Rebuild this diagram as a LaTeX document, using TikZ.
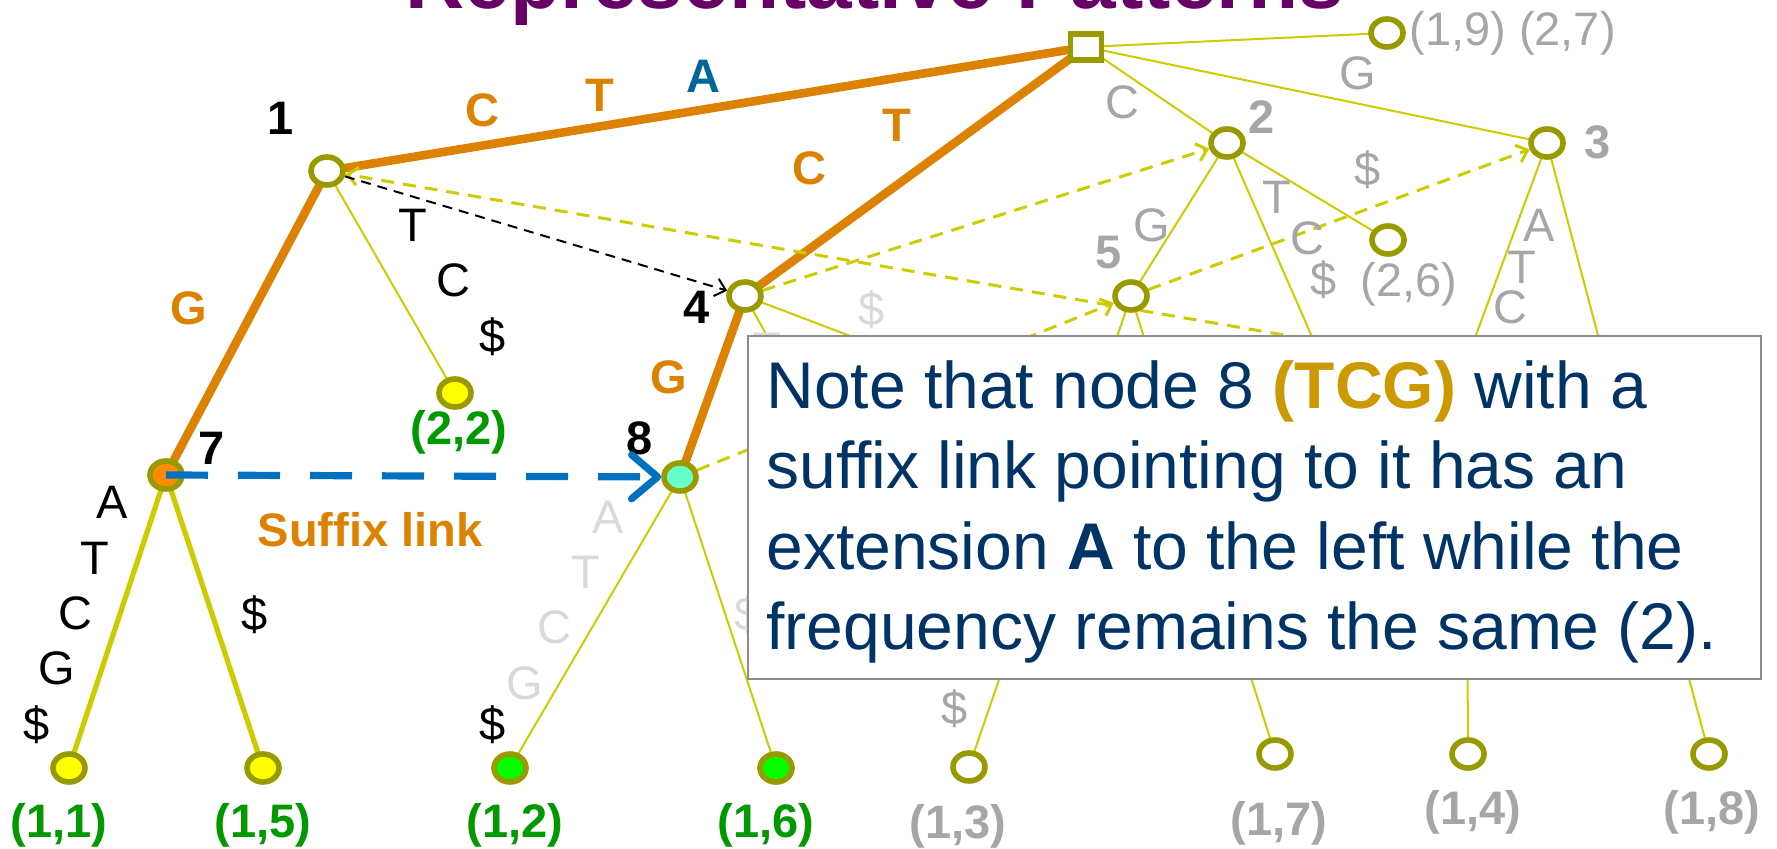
\documentclass[tikz,border=0pt]{standalone}
\usepackage{fontspec}
\setmainfont{Liberation Sans}
\usetikzlibrary{arrows.meta,shapes.geometric}
\pgfdeclarelayer{bg}
\pgfsetlayers{bg,main}
\definecolor{orng}{RGB}{220,130,0}
\definecolor{ylw}{RGB}{204,204,0}
\definecolor{olv}{RGB}{153,153,0}
\definecolor{gry}{RGB}{166,166,166}
\definecolor{lgry}{RGB}{217,217,217}
\definecolor{grn}{RGB}{0,153,0}
\definecolor{navy}{RGB}{0,51,102}
\definecolor{gold}{RGB}{204,153,0}
\definecolor{ttl}{RGB}{102,0,102}
\definecolor{blu}{RGB}{0,112,192}
\definecolor{ablue}{RGB}{0,102,153}
\definecolor{fillor}{RGB}{255,140,0}
\definecolor{aqua}{RGB}{102,255,204}
\definecolor{lfy}{RGB}{255,255,0}
\definecolor{lfg}{RGB}{0,255,0}
\definecolor{boxgray}{RGB}{140,140,140}
\begin{document}
\begin{tikzpicture}[x=0.5pt,y=-0.5pt,
  every node/.style={inner sep=0pt},
  tn/.style={ellipse, draw=olv, line width=2.8pt, fill=white, minimum width=16pt, minimum height=14pt},
  rootsq/.style={rectangle, draw=olv, line width=2.8pt, fill=white, minimum width=15.5pt, minimum height=13pt},
  lab/.style={font=\fontsize{23.5}{28}\selectfont},
  blab/.style={font=\bfseries\fontsize{23.5}{28}\selectfont},
  oe/.style={draw=orng, line width=4.3pt},
  te/.style={draw=ylw, line width=1pt},
  ye/.style={draw=ylw, line width=2.6pt},
  sl/.style={draw=ylw, line width=1.5pt, dash pattern=on 6.5pt off 4.5pt, -{Straight Barb[length=5pt,width=9pt]}},
  bl/.style={draw=black, line width=1pt, dash pattern=on 5pt off 3.5pt, -{Straight Barb[length=5pt,width=9pt]}},
  bluelink/.style={draw=blu, line width=3.6pt, dash pattern=on 21pt off 15pt, -{Straight Barb[round,length=13pt,width=22pt]}},
  boxtxt/.style={anchor=base west, text=navy, font=\fontsize{33}{40}\selectfont}
]
\useasboundingbox (0,0) rectangle (1777,849);

% title
\node[anchor=base, text=ttl, font=\bfseries\fontsize{41}{45}\selectfont] (title) at (875,9) {Representative Patterns};

% tree nodes
\node[rootsq] (root) at (1086,47) {};
\node[tn] (n19) at (1387,33) {};
\node[tn] (n1) at (327,171) {};
\node[tn] (n2) at (1227,143) {};
\node[tn] (n3) at (1547,143) {};
\node[tn] (n4) at (745,296) {};
\node[tn] (n5) at (1131,296) {};
\node[tn] (n26) at (1388,240) {};
\node[tn, fill=fillor] (n7) at (166,475) {};
\node[tn, fill=aqua] (n8) at (680,477) {};
\node[tn, fill=lfy] (n22) at (455,393) {};
\node[tn, fill=lfy] (l11) at (69,768) {};
\node[tn, fill=lfy] (l15) at (263,768) {};
\node[tn, fill=lfg] (l12) at (510,768) {};
\node[tn, fill=lfg] (l16) at (776,768) {};
\node[tn] (l13) at (969,767) {};
\node[tn] (l17) at (1275,754) {};
\node[tn] (l14) at (1468,754) {};
\node[tn] (l18) at (1709,754) {};

% hidden end points behind the note box
\coordinate (h4a) at (800,396);
\coordinate (h4b) at (1000,393);
\coordinate (h2) at (1331,380);
\coordinate (h3) at (1466,362);
\coordinate (hsrc) at (1500,372);

\begin{pgfonlayer}{bg}
  \draw[te] (root.center) -- (n19.center);
  \draw[te] (root.center) -- (n2.center);
  \draw[te] (root.center) -- (n3.center);
  \draw[te] (n1.center) -- (n22.center);
  \draw[te] (n2.center) -- (n5.center);
  \draw[te] (n2.center) -- (h2);
  \draw[te] (n2.center) -- (n26.center);
  \draw[te] (n3.center) -- (h3) -- (l14.center);
  \draw[te] (n3.center) -- (l18.center);
  \draw[te] (n4.center) -- (h4a);
  \draw[te] (n4.center) -- (h4b);
  \draw[te] (n5.center) -- (l13.center);
  \draw[te] (n5.center) -- (l17.center);
  \draw[te] (n8.center) -- (l12.center);
  \draw[te] (n8.center) -- (l16.center);
  \draw[ye] (n7.center) -- (l11.center);
  \draw[ye] (n7.center) -- (l15.center);
  \draw[oe] (root.center) -- (n1.center);
  \draw[oe] (root.center) -- (n4.center);
  \draw[oe] (n1.center) -- (n7.center);
  \draw[oe] (n4.center) -- (n8.center);
  \draw[sl] (n4) -- (n2);
  \draw[sl] (n8) -- (n5);
  \draw[sl] (n5) -- (n3);
  \draw[sl] (hsrc) -- (n1);
  \draw[bl] (n1) -- (n4);
\end{pgfonlayer}

% node numbers
\node[blab] (t1) at (281,118) {1};
\node[blab] (t4) at (697,307) {4};
\node[blab] (t7) at (212,448) {7};
\node[blab] (t8) at (640,438) {8};
\node[blab, text=gry] (t2) at (1262,117) {2};
\node[blab, text=gry] (t3) at (1598,142) {3};
\node[blab, text=gry] (t5) at (1109,253) {5};

% edge labels
\node[blab, text=orng] (e1) at (482,110) {C};
\node[blab, text=orng] (e2) at (600,95) {T};
\node[blab, text=ablue] (e3) at (703,76) {A};
\node[blab, text=orng] (e4) at (809,168) {C};
\node[blab, text=orng] (e5) at (897,125) {T};
\node[blab, text=orng] (e6) at (189,308) {G};
\node[blab, text=orng] (e7) at (669,377) {G};
\node[lab] (e8) at (413,225) {T};
\node[lab] (e9) at (453,280) {C};
\node[lab] (e10) at (493,337) {\$};
\node[lab] (e11) at (112,502) {A};
\node[lab] (e12) at (95,558) {T};
\node[lab] (e13) at (75,613) {C};
\node[lab] (e14) at (57,668) {G};
\node[lab] (e15) at (37,725) {\$};
\node[lab] (e16) at (255,615) {\$};
\node[lab] (e17) at (493,725) {\$};
\node[lab, text=lgry] (e18) at (608,517) {A};
\node[lab, text=lgry] (e19) at (586,572) {T};
\node[lab, text=lgry] (e20) at (554,627) {C};
\node[lab, text=lgry] (e21) at (525,683) {G};
\node[lab, text=lgry] (e22) at (748,615) {\$};
\node[lab, text=lgry] (e23) at (872,310) {\$};
\node[lab, text=lgry] (e24) at (767,349) {T};
\node[lab, text=gry] (e25) at (1122,102) {C};
\node[lab, text=gry] (e26) at (1358,73) {G};
\node[lab, text=gry] (e27) at (1152,225) {G};
\node[lab, text=gry] (e28) at (1368,170) {\$};
\node[lab, text=gry] (e29) at (1277,197) {T};
\node[lab, text=gry] (e30) at (1307,238) {C};
\node[lab, text=gry] (e31) at (1324,280) {\$};
\node[lab, text=gry] (e32) at (1539,225) {A};
\node[lab, text=gry] (e33) at (1522,267) {T};
\node[lab, text=gry] (e34) at (1510,307) {C};
\node[lab, text=gry] (e35) at (955,709) {\$};

% leaf labels
\node[lab, text=gry, anchor=west] (p19) at (1409,33) {(1,9) (2,7)};
\node[lab, text=gry] (p26) at (1409,284) {(2,6)};
\node[blab, text=grn] (p22) at (459,432) {(2,2)};
\node[blab, text=grn] (p11) at (59,825) {(1,1)};
\node[blab, text=grn] (p15) at (263,825) {(1,5)};
\node[blab, text=grn] (p12) at (515,825) {(1,2)};
\node[blab, text=grn] (p16) at (766,825) {(1,6)};
\node[blab, text=gry] (p13) at (958,826) {(1,3)};
\node[blab, text=gry] (p17) at (1279,823) {(1,7)};
\node[blab, text=gry] (p14) at (1473,812) {(1,4)};
\node[blab, text=gry] (p18) at (1712,812) {(1,8)};

% suffix link
\node[blab, text=orng] (sfx) at (370,530) {Suffix link};
\draw[bluelink] (n7.center) -- (n8);

% note box
\node[draw=boxgray, line width=1pt, fill=white, anchor=north west, minimum width=506.5pt, minimum height=171.5pt] (box) at (747,335) {};
\node[boxtxt] (bt1) at (766,409) {Note that node 8 \textcolor{gold}{\bfseries (TCG)} with a};
\node[boxtxt] (bt2) at (766,489) {suffix link pointing to it has an};
\node[boxtxt] (bt3) at (766,569) {extension \textbf{A} to the left while the};
\node[boxtxt] (bt4) at (766,649) {frequency remains the same (2).};
\end{tikzpicture}
\end{document}
